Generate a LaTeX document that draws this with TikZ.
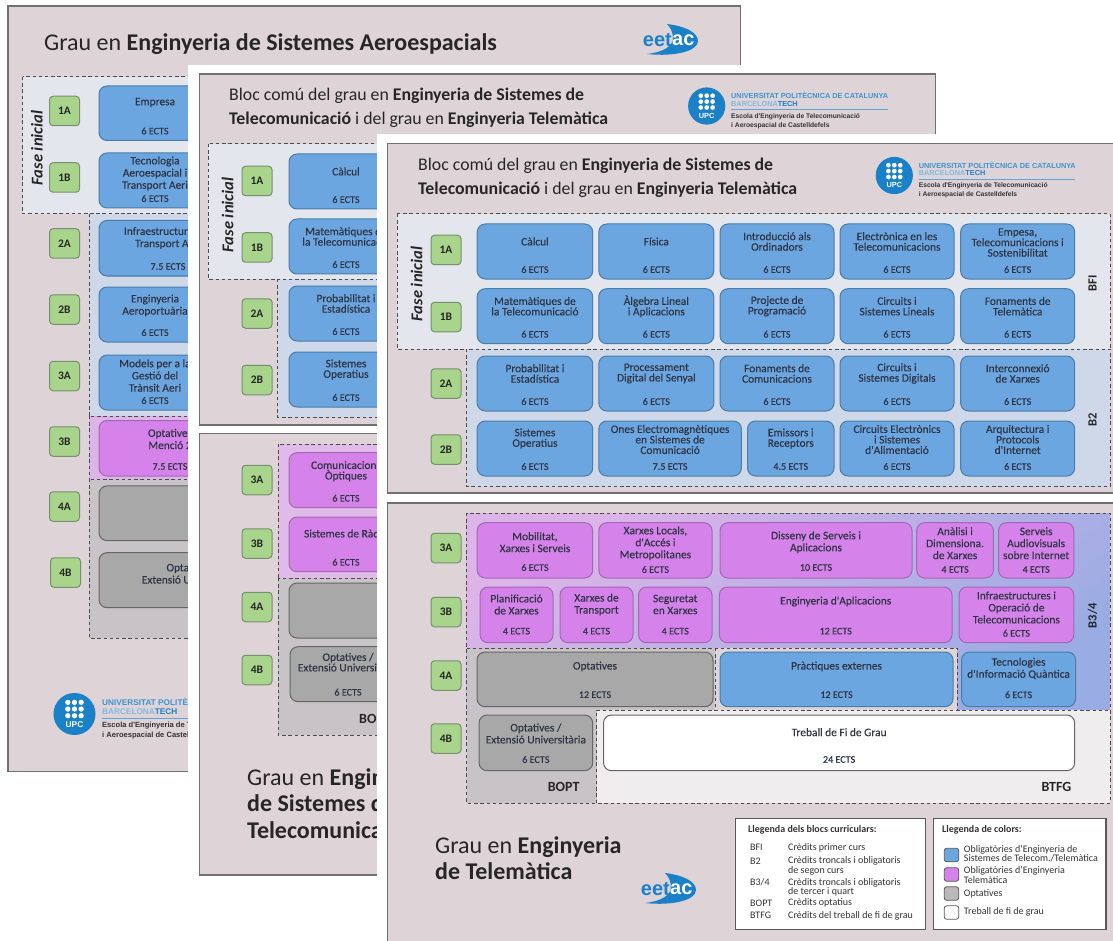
\documentclass[tikz,border=0pt]{standalone}
\usepackage{fontspec}
\setmainfont{Carlito}
\newfontfamily\logofont{Liberation Sans}
\newfontfamily\coursefont[FakeBold=0.3]{Carlito}
\usetikzlibrary{calc, positioning, shadings}
\definecolor{panelfill}{HTML}{DED4D8}
\definecolor{panelline}{HTML}{707070}
\definecolor{phasefill}{HTML}{E4E6EE}
\definecolor{secondfill}{HTML}{CED8E8}
\definecolor{thirdfill}{HTML}{DDB4E8}
\definecolor{optfill}{HTML}{C8C3C6}
\definecolor{tfgfill}{HTML}{F0EDEF}
\definecolor{courseblue}{HTML}{6CA6E0}
\definecolor{courseblueline}{HTML}{4A7DA6}
\definecolor{coursepink}{HTML}{D583EA}
\definecolor{coursepinkline}{HTML}{A268B4}
\definecolor{coursegray}{HTML}{A8A8A8}
\definecolor{coursegrayline}{HTML}{666666}
\definecolor{yearfill}{HTML}{A9D48C}
\definecolor{yearline}{HTML}{75906E}
\definecolor{upcblue}{HTML}{1A80C8}
\definecolor{inkdark}{HTML}{2E3444}
\tikzstyle{panel}      = [draw=panelline,fill=panelfill,line width=1.3pt]
\tikzstyle{paper}      = [draw=none,fill=white]
\tikzstyle{blockline}  = [draw=black!70,dash pattern=on 3.4pt off 2.8pt,line width=1pt]
\tikzstyle{bluebox}    = [rectangle,rounded corners=8pt,draw=courseblueline,fill=courseblue,line width=1pt,inner sep=0pt]
\tikzstyle{pinkbox}    = [rectangle,rounded corners=8pt,draw=coursepinkline,fill=coursepink,line width=1pt,inner sep=0pt]
\tikzstyle{graybox}    = [rectangle,rounded corners=8pt,draw=coursegrayline,fill=coursegray,line width=1pt,inner sep=0pt]
\tikzstyle{whitebox}   = [rectangle,rounded corners=8pt,draw=coursegrayline,fill=white,line width=1pt,inner sep=0pt]
\tikzstyle{yearbox}    = [rectangle,rounded corners=3.5pt,draw=yearline,fill=yearfill,line width=1pt,inner sep=0pt,
                          minimum width=30pt,minimum height=29.5pt,text=black!85,font=\fontsize{11.5}{12}\selectfont\bfseries]
\tikzstyle{coursetext} = [align=center,inner sep=0pt,text=inkdark,font=\coursefont\fontsize{11.4}{\courselead}\selectfont]
\tikzstyle{ectstext}   = [inner sep=0pt,text=inkdark,font=\coursefont\fontsize{10.1}{10.5}\selectfont]
\tikzstyle{phasetext}  = [inner sep=0pt,rotate=90,text=black!85,font=\fontsize{16.5}{17}\selectfont\bfseries\itshape]
\tikzstyle{blocktext}  = [inner sep=0pt,text=black!85,font=\fontsize{12.5}{13}\selectfont\bfseries]
\tikzstyle{headtext}   = [anchor=west,inner sep=0pt,align=left,text=black!85,font=\fontsize{17.8}{24}\selectfont]
\tikzstyle{grautext}   = [anchor=west,inner sep=0pt,align=left,text=black!85,font=\fontsize{24}{26.6}\selectfont]
\tikzstyle{keybox}     = [draw=black!65,fill=white,line width=1.2pt]
\tikzstyle{keytext}    = [anchor=west,inner sep=0pt,align=left,text=black!80,font=\fontsize{10}{9.6}\selectfont]
\tikzstyle{swatch}     = [rectangle,rounded corners=2.5pt,draw=black!65,line width=.8pt,inner sep=0pt,minimum width=14.5pt,minimum height=13.5pt]
\newcommand\ectsdrop{10}
\newcommand\courselead{10.5}
\newcommand\course[9]{
    \node[#2,minimum width=#5pt-#3pt,minimum height=#6pt-#4pt] (#1) at ({(#3+#5)/2},{(#4+#6)/2}) {};
    \node[coursetext] (#1 name) at ($(#1.north)+(0,#9)$) {#7};
    \node[ectstext]   (#1 ects) at ($(#1.south)+(0,-\ectsdrop)$) {#8};
}
\newcommand\upclogo[4]{
    \begin{scope}[shift={(#2,#3)},scale=#4,every node/.style={scale=#4,anchor=west,inner sep=0pt,font=\logofont\fontsize{7.3}{8}\selectfont\bfseries}]
        \fill[upcblue] (0,0) circle (18.6);
        \foreach \dotx in {-5.9,0,5.9}
            \foreach \doty in {-10.3,-4.4,1.5}
                \fill[white] (\dotx,\doty) circle (2.35);
        \node[text=white,anchor=center,font=\logofont\fontsize{7.4}{8}\selectfont\bfseries] (#1 upc) at (0,9.6) {UPC};
        \node[text=upcblue!85] (#1 line a) at (24.3,-10.5) {UNIVERSITAT POLITÈCNICA DE CATALUNYA};
        \node[text=upcblue!55] (#1 line b) at (24.3,-2.5) {BARCELONA\textcolor{upcblue}{TECH}};
        \draw[upcblue!70,line width=.9pt] (24.3,3.5) -- (181,3.5);
        \node[text=black!80,font=\logofont\fontsize{6.7}{7}\selectfont\bfseries] (#1 line c) at (24.3,10.6) {Escola d'Enginyeria de Telecomunicació};
        \node[text=black!80,font=\logofont\fontsize{6.7}{7}\selectfont\bfseries] (#1 line d) at (24.3,19.3) {i Aeroespacial de Castelldefels};
    \end{scope}
}
\newcommand\eetaclogo[3]{
    \begin{scope}[shift={(#2,#3)}]
        \fill[upcblue] (-3,-16) .. controls (14,-14) and (28,-8) .. (28,1) .. controls (28,11) and (5,17) .. (-23,14) .. controls (-6,12) and (3,6) .. (3,-2) .. controls (3,-8) and (0,-13) .. (-3,-16) -- cycle;
        \node[text=upcblue,anchor=east,inner sep=0pt,font=\logofont\fontsize{20}{21}\selectfont\bfseries] (#1 eet) at (2,0) {eet};
        \node[text=white,anchor=west,inner sep=0pt,font=\logofont\fontsize{20}{21}\selectfont\bfseries] (#1 ac) at (2,0) {ac};
    \end{scope}
}

\begin{document}
\begin{tikzpicture}[x=1pt,y=-1pt]
    \path[use as bounding box,clip] (0,0) rectangle (1113,941);

    % first sheet
    \draw[panel] (8,6) rectangle (740.5,771.5);
    \node[grautext] (aero title) at (44,44) {Grau en \textbf{Enginyeria de Sistemes Aeroespacials}};
    \eetaclogo{aero eetac}{670}{40}
    \draw[blockline,fill=phasefill] (22.7,77) rectangle (720,214);
    \draw[blockline,fill=secondfill] (89,214) rectangle (720,416);
    \draw[blockline,fill=thirdfill] (89,416) rectangle (720,479);
    \draw[blockline,fill=optfill] (89,479) rectangle (720,638);
    \node[phasetext] (aero phase) at (37,148) {Fase inicial};
    \node[yearbox] (aero 1A) at (64.5,111)   {1A};
    \node[yearbox] (aero 1B) at (64.5,177.5) {1B};
    \node[yearbox] (aero 2A) at (64.5,243.5) {2A};
    \node[yearbox] (aero 2B) at (64.5,309.5) {2B};
    \node[yearbox] (aero 3A) at (64.5,376)   {3A};
    \node[yearbox] (aero 3B) at (64.5,441.5) {3B};
    \node[yearbox] (aero 4A) at (64.5,506.5) {4A};
    \node[yearbox] (aero 4B) at (65.5,572.5) {4B};
    \renewcommand\courselead{12.2}
    \course{aero emp}{bluebox}{99}{86}{211}{140.5}{Empresa}{6 ECTS}{17}
    \course{aero tec}{bluebox}{99}{153}{211}{208}{Tecnologia\\Aeroespacial i\\Transport Aeri}{6 ECTS}{21}
    \course{aero inf}{bluebox}{99}{220.5}{237}{276}{Infraestructures de\\Transport Aeri}{7.5 ECTS}{18}
    \course{aero eng}{bluebox}{99}{287}{211}{342}{Enginyeria\\Aeroportuària}{6 ECTS}{19}
    \course{aero mod}{bluebox}{99}{355}{211}{410}{Models per a la\\Gestió del\\Trànsit Aeri}{6 ECTS}{21}
    \course{aero opt}{pinkbox}{99}{420.5}{241}{476}{Optatives\\Menció 2}{7.5 ECTS}{19}
    \node[graybox,minimum width=300pt,minimum height=54.7pt] (aero optb) at (249,513.3) {};
    \node[graybox,minimum width=300pt,minimum height=55pt] (aero ext) at (249,580.2) {};
    \node[coursetext] (aero ext name) at (192,573.5) {Optatives /\\Extensió Universitària};
    \upclogo{aero upc}{74.5}{714}{1.13}

    % second sheet
    \fill[paper] (188,65) rectangle (945,885);
    \draw[panel] (199.5,74) rectangle (935.5,425);
    \draw[panel] (199.5,433.5) rectangle (935.5,875);
    \node[headtext] (comm title) at (229,108) {Bloc comú del grau en \textbf{Enginyeria de Sistemes de}\\\textbf{Telecomunicació} i del grau en \textbf{Enginyeria Telemàtica}};
    \upclogo{comm upc}{706.7}{106}{1}
    \draw[blockline,fill=phasefill] (208,144) rectangle (925,279);
    \draw[blockline,fill=secondfill] (277.5,279) rectangle (925,417);
    \draw[blockline,fill=thirdfill!90!white] (278,444) rectangle (925,578);
    \draw[blockline,fill=optfill] (278,578) rectangle (925,735);
    \node[phasetext] (comm phase) at (227.7,215) {Fase inicial};
    \node[yearbox] (comm 1A) at (257,181)   {1A};
    \node[yearbox] (comm 1B) at (257,247.5) {1B};
    \node[yearbox] (comm 2A) at (257,313.5) {2A};
    \node[yearbox] (comm 2B) at (257,380)   {2B};
    \node[yearbox] (comm 3A) at (257,480)   {3A};
    \node[yearbox] (comm 3B) at (257,543.5) {3B};
    \node[yearbox] (comm 4A) at (257,607)   {4A};
    \node[yearbox] (comm 4B) at (257,670)   {4B};
    \renewcommand\courselead{10.5}
    \course{comm cal}{bluebox}{289}{154}{403}{209}{Càlcul}{6 ECTS}{18}
    \course{comm mat}{bluebox}{289}{219}{403}{274}{Matemàtiques de\\la Telecomunicació}{6 ECTS}{18}
    \course{comm pro}{bluebox}{289}{286}{403}{341}{Probabilitat i\\Estadística}{6 ECTS}{18}
    \course{comm sis}{bluebox}{289}{352}{403}{407}{Sistemes\\Operatius}{6 ECTS}{18}
    \course{comm com}{pinkbox}{289}{452.7}{403}{507.7}{Comunicacions\\Òptiques}{6 ECTS}{19}
    \course{comm rad}{pinkbox}{289}{517}{403}{571.7}{Sistemes de Ràdio}{6 ECTS}{17}
    \node[graybox,minimum width=200pt,minimum height=55pt] (comm optb) at (389,610.5) {};
    \course{comm ext}{graybox}{290}{646.7}{406}{701.7}{Optatives /\\Extensió Universitària}{6 ECTS}{16}
    \node[blocktext,anchor=west,font=\fontsize{14}{15}\selectfont\bfseries] (comm bopt) at (359,719) {BOPT};
    \node[grautext] (comm grau) at (247,803.5) {Grau en \textbf{Enginyeria}\\\textbf{de Sistemes de}\\\textbf{Telecomunicació}};

    % third sheet, upper part
    \fill[paper] (377,134) rectangle (1113,941);
    \draw[panel] (387.5,143.5) rectangle (1125,493);
    \draw[panel] (387.5,503) rectangle (1125,955);
    \node[headtext] (tele title) at (418,178) {Bloc comú del grau en \textbf{Enginyeria de Sistemes de}\\\textbf{Telecomunicació} i del grau en \textbf{Enginyeria Telemàtica}};
    \upclogo{tele upc}{894.3}{175.5}{1}
    \draw[blockline,fill=phasefill] (397,214) rectangle (1110,349);
    \draw[blockline,fill=secondfill] (466.5,349) rectangle (1110,486.7);
    \node[phasetext] (tele phase) at (416.7,284) {Fase inicial};
    \node[blocktext,rotate=90] (tele bfi) at (1092.5,283) {BFI};
    \node[blocktext,rotate=90] (tele b2) at (1092.5,420) {B2};
    \node[yearbox] (tele 1A) at (446,250)   {1A};
    \node[yearbox] (tele 1B) at (446,317)   {1B};
    \node[yearbox] (tele 2A) at (446,383.5) {2A};
    \node[yearbox] (tele 2B) at (446,449.5) {2B};
    \course{tele cal}{bluebox}{477.2}{224}{592.7}{279}{Càlcul}{6 ECTS}{18}
    \course{tele fis}{bluebox}{598.8}{224}{713.8}{279}{Física}{6 ECTS}{18}
    \course{tele ord}{bluebox}{720}{224}{834}{279}{Introducció als\\Ordinadors}{6 ECTS}{18}
    \course{tele ele}{bluebox}{840}{224}{954}{279}{Electrònica en les\\Telecomunicacions}{6 ECTS}{18}
    \course{tele emp}{bluebox}{960.6}{224}{1074.7}{279}{Empesa,\\Telecomunicacions i\\Sostenibilitat}{6 ECTS}{19}
    \course{tele mat}{bluebox}{477.2}{288.7}{592.7}{343.7}{Matemàtiques de\\la Telecomunicació}{6 ECTS}{18}
    \course{tele alg}{bluebox}{598.8}{288.7}{713.8}{343.7}{Àlgebra Lineal\\i Aplicacions}{6 ECTS}{18}
    \course{tele prg}{bluebox}{720}{288.7}{834}{343.7}{Projecte de\\Programació}{6 ECTS}{18}
    \course{tele cir}{bluebox}{840}{288.7}{954}{343.7}{Circuits i\\Sistemes Lineals}{6 ECTS}{18}
    \course{tele fon}{bluebox}{960.6}{288.7}{1074.7}{343.7}{Fonaments de\\Telemàtica}{6 ECTS}{18}
    \course{tele pro}{bluebox}{477.2}{356}{592.7}{411}{Probabilitat i\\Estadística}{6 ECTS}{18}
    \course{tele dig}{bluebox}{598.8}{356}{713.8}{411}{Processament\\Digital del Senyal}{6 ECTS}{18}
    \course{tele fcm}{bluebox}{720}{356}{834}{411}{Fonaments de\\Comunicacions}{6 ECTS}{18}
    \course{tele csd}{bluebox}{840}{356}{954}{411}{Circuits i\\Sistemes Digitals}{6 ECTS}{18}
    \course{tele int}{bluebox}{960.6}{356}{1074.7}{411}{Interconnexió\\de Xarxes}{6 ECTS}{18}
    \course{tele sis}{bluebox}{477.2}{421}{592.7}{476}{Sistemes\\Operatius}{6 ECTS}{18}
    \course{tele one}{bluebox}{598.8}{421}{741.4}{476}{Ones Electromagnètiques\\en Sistemes de\\Comunicació}{7.5 ECTS}{19}
    \course{tele emi}{bluebox}{747.5}{421}{834}{476}{Emissors i\\Receptors}{4.5 ECTS}{18}
    \course{tele cea}{bluebox}{840}{421}{954}{476}{Circuits Electrònics\\i Sistemes\\d'Alimentació}{6 ECTS}{19}
    \course{tele arq}{bluebox}{960.6}{421}{1074.7}{476}{Arquitectura i\\Protocols\\d'Internet}{6 ECTS}{19}

    % third sheet, lower part
    \shade[shading=axis,top color=thirdfill,middle color=thirdfill!85!courseblue,bottom color=courseblue!60!thirdfill,shading angle=35] (466.5,513) rectangle (1110,710);
    \fill[optfill] (466.5,648) rectangle (715,710);
    \fill[panelfill] (715,648) rectangle (957.4,710);
    \fill[optfill] (466.5,710) rectangle (596.5,803);
    \fill[tfgfill] (596.5,710) rectangle (1110,803);
    \draw[blockline] (466.5,513) rectangle (1110,803);
    \draw[blockline] (466.5,648) -- (957.4,648) -- (957.4,710);
    \draw[blockline] (715,648) -- (715,710);
    \draw[blockline] (596.5,803) -- (596.5,710) -- (1110,710);
    \node[blocktext,rotate=90] (tele b34) at (1092.5,615.7) {B3/4};
    \node[blocktext,font=\fontsize{14}{15}\selectfont\bfseries] (tele bopt) at (563.7,787) {BOPT};
    \node[blocktext,font=\fontsize{14}{15}\selectfont\bfseries] (tele btfg) at (1056.5,787) {BTFG};
    \node[yearbox] (tele 3A) at (446,548)   {3A};
    \node[yearbox] (tele 3B) at (446,612)   {3B};
    \node[yearbox] (tele 4A) at (446,675.5) {4A};
    \node[yearbox] (tele 4B) at (446,738.5) {4B};
    \renewcommand\courselead{12}
    \renewcommand\ectsdrop{11}
    \course{tele mob}{pinkbox}{477.2}{522.7}{592.7}{578}{Mobilitat,\\Xarxes i Serveis}{6 ECTS}{20}
    \renewcommand\ectsdrop{9}
    \course{tele loc}{pinkbox}{598.8}{522.7}{712}{578}{Xarxes Locals,\\d'Accés i\\Metropolitanes}{6 ECTS}{21}
    \renewcommand\ectsdrop{11}
    \course{tele dis}{pinkbox}{720}{522.7}{912}{578}{Disseny de Serveis i\\Aplicacions}{10 ECTS}{20}
    \renewcommand\ectsdrop{9}
    \course{tele ana}{pinkbox}{916.7}{522.7}{993.4}{578}{Anàlisi i\\Dimensiona.\\de Xarxes}{4 ECTS}{21}
    \course{tele aud}{pinkbox}{998.5}{522.7}{1073.8}{578}{Serveis\\Audiovisuals\\sobre Internet}{4 ECTS}{21}
    \renewcommand\ectsdrop{12}
    \course{tele pla}{pinkbox}{480}{587}{553}{642.7}{Planificació\\de Xarxes}{4 ECTS}{18}
    \course{tele tra}{pinkbox}{560}{587}{633}{642.7}{Xarxes de\\Transport}{4 ECTS}{18}
    \course{tele seg}{pinkbox}{638.5}{587}{712}{642.7}{Seguretat\\en Xarxes}{4 ECTS}{18}
    \course{tele apl}{pinkbox}{719.4}{587}{952}{642.7}{Enginyeria d'Aplicacions}{12 ECTS}{15}
    \renewcommand\ectsdrop{10}
    \course{tele ope}{pinkbox}{959}{587}{1073.8}{642.7}{Infraestructures i\\Operació de\\Telecomunicacions}{6 ECTS}{21}
    \renewcommand\ectsdrop{12.5}
    \course{tele opa}{graybox}{477}{652}{713}{706.7}{Optatives}{12 ECTS}{15}
    \course{tele pex}{bluebox}{720}{652}{953}{706.7}{Pràctiques externes}{12 ECTS}{15}
    \course{tele qua}{bluebox}{961.6}{652}{1075.6}{706.7}{Tecnologies\\d'Informació Quàntica}{6 ECTS}{17}
    \renewcommand\ectsdrop{11.7}
    \course{tele ext}{graybox}{479}{715}{592.7}{770.7}{Optatives /\\Extensió Universitària}{6 ECTS}{19}
    \course{tele tfg}{whitebox}{603.5}{715}{1074.7}{770.7}{Treball de Fi de Grau}{24 ECTS}{17.7}
    \node[grautext] (tele grau) at (435,858) {Grau en \textbf{Enginyeria}\\\textbf{de Telemàtica}};
    \eetaclogo{tele eetac}{668}{889}

    % legends
    \draw[keybox] (735.3,818.7) rectangle (925.3,929.3);
    \draw[keybox] (933.3,818.7) rectangle (1106,929.3);
    \node[keytext,font=\fontsize{10}{10}\selectfont\bfseries] (key blocks) at (748,830) {Llegenda dels blocs curriculars:};
    \node[keytext] (key bfi)  at (750,847.7)  {BFI};
    \node[keytext] (key bfit) at (788,847.7)  {Crèdits primer curs};
    \node[keytext] (key b2)   at (750,861)    {B2};
    \node[keytext] (key b2t)  at (788,866)    {Crèdits troncals i obligatoris\\de segon curs};
    \node[keytext] (key b34)  at (750,882.3)  {B3/4};
    \node[keytext] (key b34t) at (788,887.5)  {Crèdits troncals i obligatoris\\de tercer i quart};
    \node[keytext] (key bop)  at (750,903)    {BOPT};
    \node[keytext] (key bopt) at (788,903)    {Crèdits optatius};
    \node[keytext] (key btf)  at (750,915.7)  {BTFG};
    \node[keytext] (key btft) at (788,915.7)  {Crèdits del treball de fi de grau};
    \node[keytext,font=\fontsize{10}{10}\selectfont\bfseries] (key colors) at (942,830) {Llegenda de colors:};
    \node[swatch,fill=courseblue] (key blue) at (951.5,855)   {};
    \node[swatch,fill=coursepink] (key pink) at (951.5,874.5) {};
    \node[swatch,fill=coursegray!80!white] (key gray) at (951.5,893.5) {};
    \node[swatch,fill=white]      (key free) at (951.5,912.5) {};
    \node[keytext] (key bluet) at (963.7,853.7) {Obligatòries d'Enginyeria de\\Sistemes de Telecom./Telemàtica};
    \node[keytext] (key pinkt) at (963.7,875.3) {Obligatòries d'Enginyeria\\Telemàtica};
    \node[keytext] (key grayt) at (963.7,894.3) {Optatives};
    \node[keytext] (key freet) at (963.7,912)   {Treball de fi de grau};
\end{tikzpicture}
\end{document}
